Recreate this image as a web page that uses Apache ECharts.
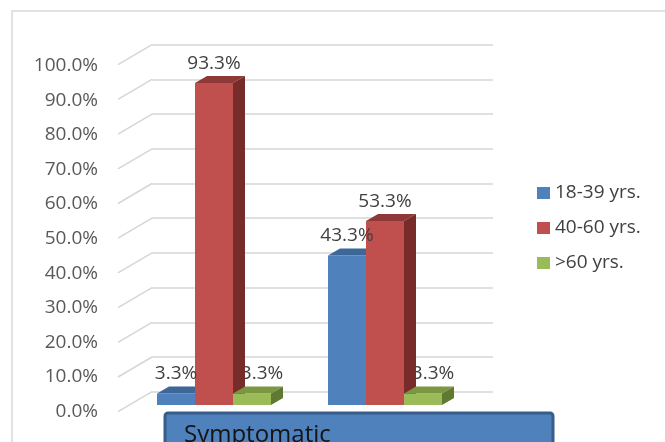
<!DOCTYPE html>
<html>
<head>
<meta charset="utf-8">
<script src="https://cdn.jsdelivr.net/npm/echarts@6/dist/echarts.min.js"></script>
<style>
  html, body { margin: 0; padding: 0; background: #ffffff; }
  #chart { width: 665px; height: 442px; }
</style>
</head>
<body>
<div id="chart"></div>
<script>
// Age-group shares (%) for the two case groups
const categories = ['Group 1', 'Group 2'];
const seriesNames = ['18-39 yrs.', '40-60 yrs.', '>60 yrs.'];
const age18to39 = [3.3, 43.3];
const age40to60 = [93.3, 53.3];
const ageOver60 = [3.3, 3.3];
const headerText = 'Symptomatic';
const yMin = 0, yMax = 100, yStep = 10;

const FONT = '"Open Sans", "Liberation Sans", sans-serif';
// depth of each 3D bar (side / top faces)
const DX = 12, DY = -7;
// depth offset between the back wall and the front edge of the side wall
const WALL_DX = -34, WALL_DY = 20;

const palette = [
  { front: '#4F81BD', top: '#3D6799', side: '#2F5381' },
  { front: '#C0504D', top: '#8E3937', side: '#772C2A' },
  { front: '#9BBB59', top: '#7A9842', side: '#5F7832' }
];
const labelShift = [0, 0, 10];
const valueSets = [age18to39, age40to60, ageOver60];

function barRenderer(slot) {
  const c = palette[slot];
  return function (params, api) {
    const cat = api.value(0), val = api.value(1);
    const base = api.coord([cat, 0]);
    const top = api.coord([cat, val]);
    const band = api.size([1, 0])[0];
    const w = band * 2 / 9;
    const x0 = base[0] - 1.5 * w + slot * w;
    const x1 = x0 + w;
    const yb = base[1], yt = top[1];
    return {
      type: 'group',
      children: [
        { type: 'rect', shape: { x: x0, y: yt, width: w, height: yb - yt },
          style: { fill: c.front } },
        { type: 'polygon', shape: { points: [[x0, yt], [x1, yt], [x1 + DX, yt + DY], [x0 + DX, yt + DY]] },
          style: { fill: c.top } },
        { type: 'polygon', shape: { points: [[x1, yt], [x1 + DX, yt + DY], [x1 + DX, yb + DY], [x1, yb]] },
          style: { fill: c.side } }
      ]
    };
  };
}

function labelRenderer(params, api) {
  const cat = api.value(0), val = api.value(1), slot = api.value(2);
  const base = api.coord([cat, 0]);
  const top = api.coord([cat, val]);
  const band = api.size([1, 0])[0];
  const w = band * 2 / 9;
  const cx = base[0] - w + slot * w + labelShift[slot];
  return {
    type: 'text',
    style: {
      x: cx, y: top[1] - 20,
      text: val.toFixed(1) + '%',
      fill: '#404040',
      font: '19px ' + FONT,
      align: 'center', verticalAlign: 'middle'
    }
  };
}

function sideWallRenderer(params, api) {
  const p = api.coord([0, api.value(0)]);
  return {
    type: 'line',
    shape: { x1: p[0], y1: p[1], x2: p[0] + WALL_DX, y2: p[1] + WALL_DY },
    style: { stroke: '#d6d6d6', lineWidth: 1.5 }
  };
}

const tickValues = [];
for (let v = yMin; v <= yMax; v += yStep) tickValues.push([v]);

const frontLabels = [], backLabels = [];
valueSets.forEach((arr, slot) => {
  arr.forEach((v, i) => {
    (slot === 2 ? backLabels : frontLabels).push([i, v, slot]);
  });
});

const series = [
  {
    type: 'custom', name: 'wall', coordinateSystem: 'cartesian2d',
    xAxisIndex: 1, yAxisIndex: 1, z: 1, silent: true,
    data: tickValues, renderItem: sideWallRenderer
  },
  {
    type: 'custom', name: 'labels-back', coordinateSystem: 'cartesian2d',
    xAxisIndex: 0, yAxisIndex: 0, z: 2, silent: true,
    data: backLabels, renderItem: labelRenderer
  }
];
valueSets.forEach((arr, slot) => {
  series.push({
    type: 'custom', name: seriesNames[slot], coordinateSystem: 'cartesian2d',
    xAxisIndex: 0, yAxisIndex: 0, z: 3 + slot,
    itemStyle: { color: palette[slot].front },
    data: arr.map((v, i) => [i, v]),
    renderItem: barRenderer(slot)
  });
});
series.push({
  type: 'custom', name: 'labels-front', coordinateSystem: 'cartesian2d',
  xAxisIndex: 0, yAxisIndex: 0, z: 10, silent: true,
  data: frontLabels, renderItem: labelRenderer
});

const chart = echarts.init(document.getElementById('chart'), null, { renderer: 'canvas' });
chart.setOption({
  animation: false,
  backgroundColor: '#ffffff',
  grid: [
    // front plane of the bars
    { left: 128.5, width: 342, top: 60, height: 345 },
    // back wall
    { left: 152, width: 341, top: 44.7, height: 347 },
    // front edge of the side wall (value labels)
    { left: 118, width: 10, top: 65.5, height: 346 }
  ],
  xAxis: [
    { gridIndex: 0, type: 'category', data: categories, boundaryGap: true, show: false },
    { gridIndex: 1, type: 'value', min: 0, max: 1, show: false },
    { gridIndex: 2, type: 'value', min: 0, max: 1, show: false }
  ],
  yAxis: [
    { gridIndex: 0, type: 'value', min: yMin, max: yMax, show: false },
    { gridIndex: 1, type: 'value', min: yMin, max: yMax, interval: yStep,
      axisLine: { show: false }, axisTick: { show: false }, axisLabel: { show: false },
      splitLine: { show: true, lineStyle: { color: '#d6d6d6', width: 1.5 } } },
    { gridIndex: 2, type: 'value', min: yMin, max: yMax, interval: yStep,
      axisLine: { show: false }, axisTick: { show: false }, splitLine: { show: false },
      axisLabel: { margin: 20, color: '#595959', fontSize: 19, fontFamily: FONT,
        formatter: v => v.toFixed(1) + '%' } }
  ],
  legend: {
    orient: 'vertical', left: 537, top: 183, padding: 0,
    itemWidth: 13, itemHeight: 12, itemGap: 15, icon: 'rect',
    data: seriesNames,
    textStyle: { color: '#404040', fontSize: 19, fontFamily: FONT, lineHeight: 20 }
  },
  graphic: [
    { type: 'rect', left: 9.5, top: 8.5, silent: true,
      shape: { width: 720, height: 500 },
      style: { fill: 'none', stroke: '#d9d9d9', lineWidth: 1.5 } },
    { type: 'rect', silent: true, z: 20,
      shape: { x: 165, y: 413, width: 388, height: 60, r: 3 },
      style: { fill: '#4F81BD', stroke: '#385D8A', lineWidth: 3 } },
    { type: 'text', silent: true, z: 21, x: 184, y: 423.5,
      style: { text: headerText, fill: '#141414', font: '24px ' + FONT, verticalAlign: 'top' } }
  ],
  series: series
});
</script>
</body>
</html>
